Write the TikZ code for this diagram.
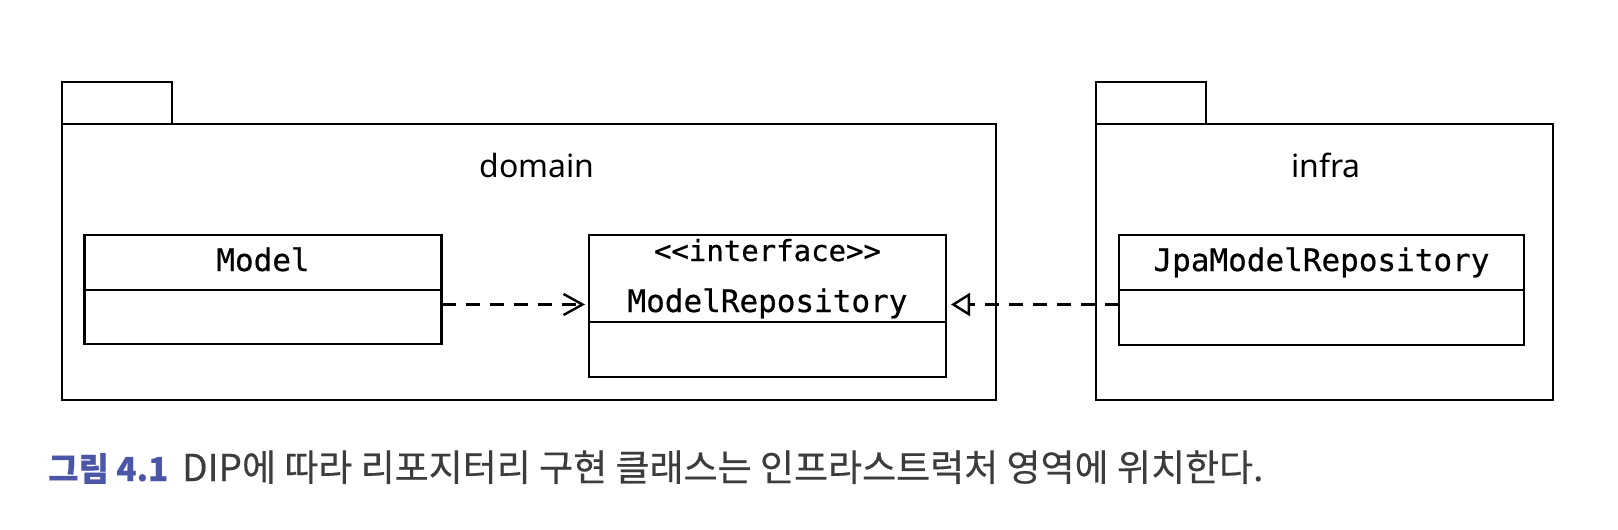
\documentclass[tikz,border=0pt]{standalone}
\usepackage{fontspec}
\setmainfont{Noto Sans}
\newfontfamily\codefont[FakeBold=0.6]{DejaVu Sans Mono}
\newfontfamily\cjk[FakeBold=0.4]{Noto Sans CJK KR}
\usetikzlibrary{positioning, arrows.meta}
\definecolor{figblue}{RGB}{75,86,166}
\definecolor{captiongray}{RGB}{60,60,60}

\begin{document}
\begin{tikzpicture}[
    x=1pt, y=-1pt,
    pkg/.style={draw=black, line width=2.4pt, outer sep=0pt, inner sep=0pt},
    pkgname/.style={font=\fontsize{32}{38}\selectfont, inner sep=0pt},
    classhead/.style={draw=black, line width=2.4pt, outer sep=0pt, inner sep=0pt,
        text height=24pt, text depth=7pt, font=\codefont\fontsize{31}{36}\selectfont},
    classbody/.style={draw=black, line width=2.4pt, outer sep=0pt, inner sep=0pt},
    stereo/.style={font=\codefont\fontsize{29}{34}\selectfont, inner sep=0pt},
    dep/.style={line width=2.4pt, dash pattern=on 14pt off 10pt,
        -{Straight Barb[length=19pt,width=21pt]}},
    realize/.style={line width=2.4pt, dash pattern=on 14pt off 10pt,
        -{Triangle[open,length=19pt,width=23pt]}}
]

\useasboundingbox (0,0) rectangle (1618,530);

% --- Packages with their tabs ---
\foreach \pname/\px/\pw/\lx in {domain/529/934/537, infra/1324.5/457/1326} {
    \node[pkg, minimum width=\pw pt, minimum height=276pt] (\pname) at (\px,262) {};
    \node[pkg, minimum width=110pt, minimum height=42pt, anchor=south west]
        (\pname tab) at (\pname.north west) {};
    \node[pkgname, anchor=base] (\pname name) at (\lx,177) {\pname};
}

% --- Classes ---
\node[classhead, minimum width=357pt, minimum height=55pt, anchor=north] (modelhead) at (263,235) {Model};
\node[classbody, minimum width=357pt, minimum height=54pt, below=0pt of modelhead] (modelbody) {};

\node[classhead, minimum width=357pt, minimum height=87pt, anchor=north] (repohead) at (767.5,235) {};
\node[classbody, minimum width=357pt, minimum height=55pt, below=0pt of repohead] (repobody) {};
\node[stereo, anchor=base] (stereotype) at (767.5,261) {<<interface>>};
\node[classhead, draw=none, anchor=base] (reponame) at (767.5,312) {ModelRepository};

\node[classhead, minimum width=405pt, minimum height=55pt, anchor=north] (jpahead) at (1321.5,235) {JpaModelRepository};
\node[classbody, minimum width=405pt, minimum height=55pt, below=0pt of jpahead] (jpabody) {};

% --- Dependencies ---
\coordinate (lane) at (0,304.5);
\draw[dep, shorten >=4pt] (modelbody.east |- lane) -- (repohead.west |- lane);
\draw[realize, shorten >=5pt] (jpabody.west |- lane) -- (repohead.east |- lane);

% --- Caption ---
\node[anchor=base west, inner sep=0pt, text=captiongray, font=\cjk\fontsize{37}{42}\selectfont] (caption) at (48,481)
    {\textcolor{figblue}{\fontsize{33}{40}\selectfont\bfseries 그림 4.1}\hspace{14pt}DIP에 따라 리포지터리 구현 클래스는 인프라스트럭처 영역에 위치한다.};

\end{tikzpicture}
\end{document}
